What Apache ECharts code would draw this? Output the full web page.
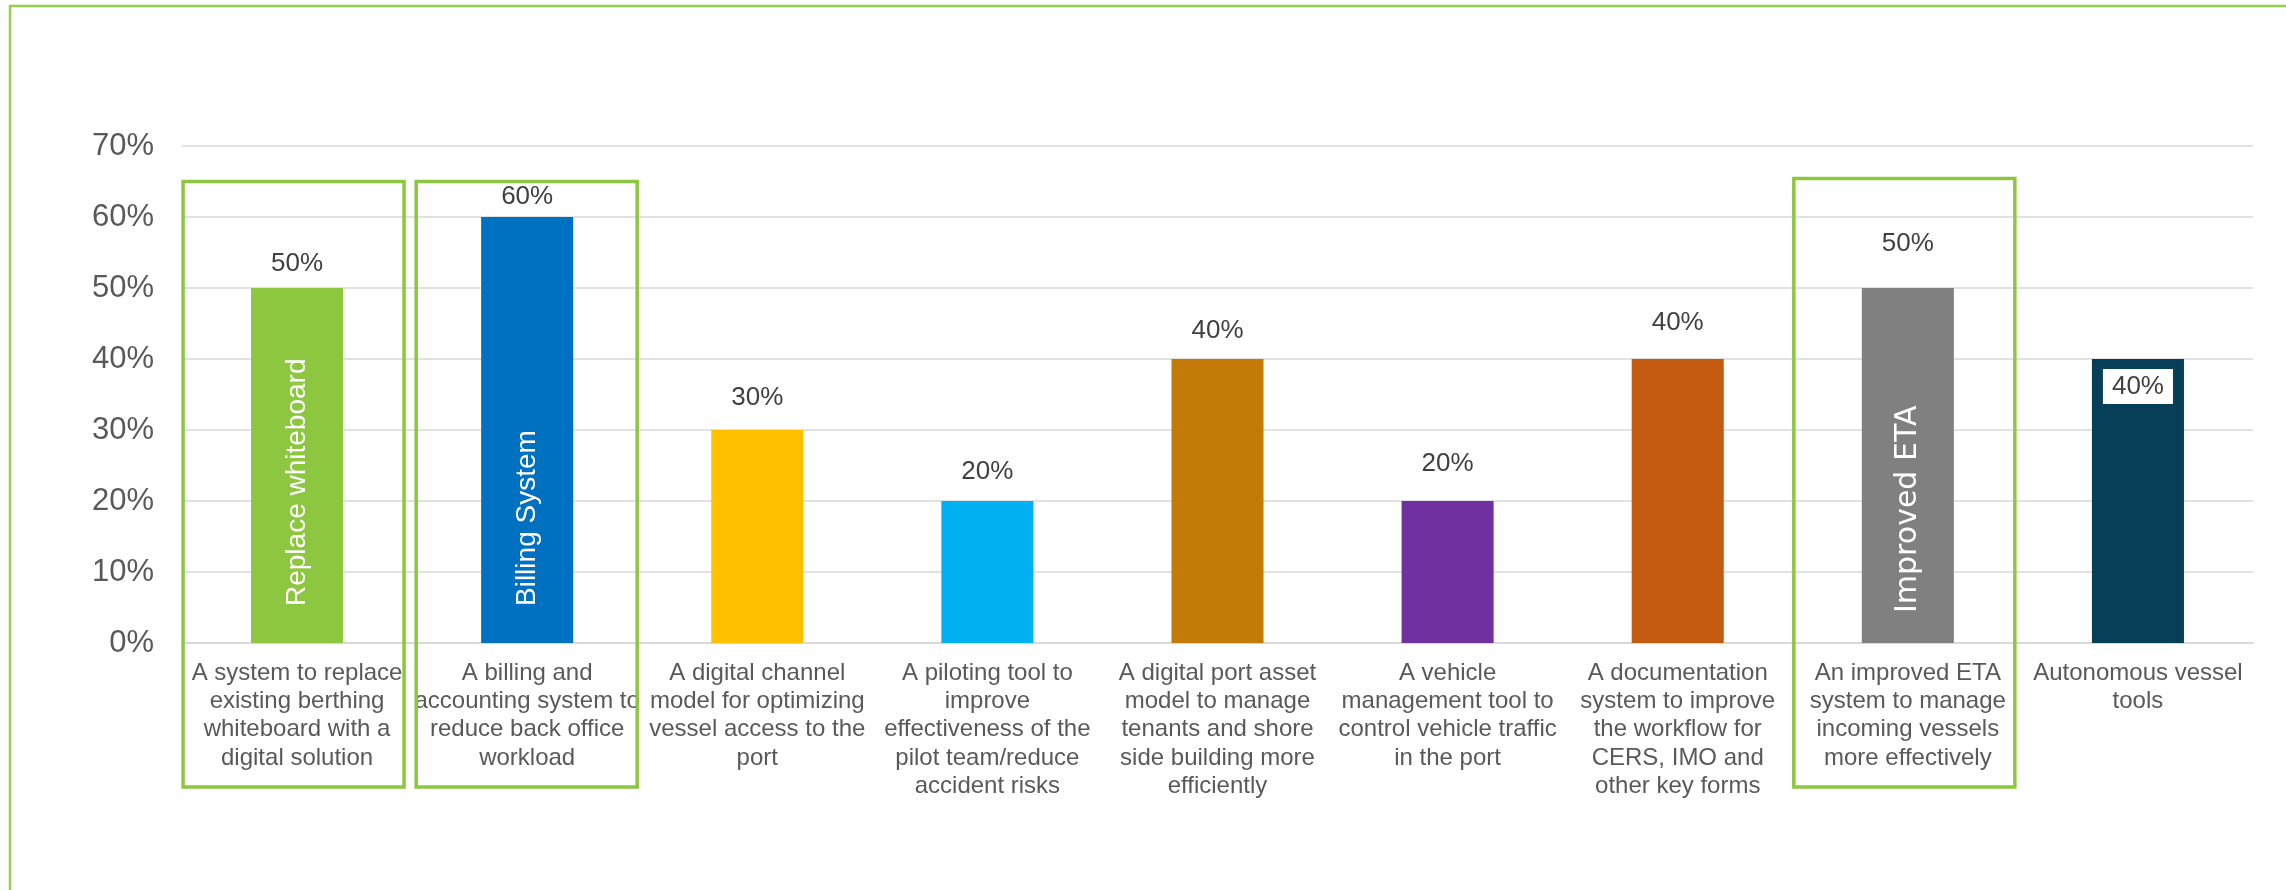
<!DOCTYPE html>
<html>
<head>
<meta charset="utf-8">
<script src="https://cdn.jsdelivr.net/npm/echarts@6/dist/echarts.min.js"></script>
<style>
  html, body { margin: 0; padding: 0; background: #fff; }
  #chart { width: 2286px; height: 890px; }
</style>
</head>
<body>
<div id="chart"></div>
<script>
// categories (line breaks as in the original slide)
const categories = [
  'A system to replace\nexisting berthing\nwhiteboard with a\ndigital solution',
  'A billing and\naccounting system to\nreduce back office\nworkload',
  'A digital channel\nmodel for optimizing\nvessel access to the\nport',
  'A piloting tool to\nimprove\neffectiveness of the\npilot team/reduce\naccident risks',
  'A digital port asset\nmodel to manage\ntenants and shore\nside building more\nefficiently',
  'A vehicle\nmanagement tool to\ncontrol vehicle traffic\nin the port',
  'A documentation\nsystem to improve\nthe workflow for\nCERS, IMO and\nother key forms',
  'An improved ETA\nsystem to manage\nincoming vessels\nmore effectively',
  'Autonomous vessel\ntools'
]
// share of respondents, percent
const values = [50, 60, 30, 20, 40, 20, 40, 50, 40]
// short names written inside some bars
const innerNames = ['Replace whiteboard', 'Billing System', '', '', '', '', '', 'Improved ETA', '']
// categories framed with a green box
const boxed = [0, 1, 7]
const yTicks = [0, 10, 20, 30, 40, 50, 60, 70]

const barColors = ['#8dc63f', '#0070c0', '#ffc000', '#00b0f0', '#c47a07', '#7030a0', '#c55a11', '#808080', '#073e58']
// gap between bar top and its value label (labels were placed by hand)
const labelGap = [11, 7, 19, 16, 15, 24, 23, 31, 10]

const font = '"Liberation Sans", Arial, sans-serif'
const chart = echarts.init(document.getElementById('chart'))

const mainData = values.map((v, i) => {
  const last = i === values.length - 1
  return {
    value: v,
    itemStyle: { color: barColors[i] },
    label: last
      ? { position: 'insideTop', distance: labelGap[i], backgroundColor: '#fff', padding: [5, 9, 4, 9] }
      : { position: 'top', distance: labelGap[i] }
  }
})

const innerData = values.map((v, i) => {
  const eta = i === 7
  return {
    value: v,
    label: {
      show: innerNames[i] !== '',
      formatter: innerNames[i],
      fontFamily: eta ? '"DejaVu Sans", sans-serif' : font,
      fontSize: eta ? 30 : 28,
      distance: eta ? 30 : 37
    }
  }
})

const option = {
  animation: false,
  grid: { left: 182, right: 33, top: 146, bottom: 247 },
  xAxis: {
    type: 'category',
    data: categories,
    axisTick: { show: false },
    axisLine: { lineStyle: { color: '#d9d9d9', width: 2 } },
    axisLabel: {
      interval: 0,
      margin: 16,
      fontSize: 24,
      lineHeight: 28.3,
      color: '#595959',
      fontFamily: font
    }
  },
  yAxis: {
    type: 'value',
    min: yTicks[0],
    max: yTicks[yTicks.length - 1],
    interval: 10,
    axisLabel: { formatter: '{value}%', fontSize: 31, color: '#595959', margin: 28, fontFamily: font },
    splitLine: { lineStyle: { color: '#d9d9d9', width: 1.5 } },
    axisLine: { show: false },
    axisTick: { show: false }
  },
  series: [
    {
      type: 'bar',
      barWidth: '40%',
      data: mainData,
      label: {
        show: true,
        formatter: '{c}%',
        fontSize: 26,
        color: '#404040',
        fontFamily: font
      }
    },
    {
      type: 'bar',
      barWidth: '40%',
      barGap: '-100%',
      silent: true,
      itemStyle: { color: 'transparent' },
      data: innerData,
      label: {
        position: 'insideBottom',
        rotate: 90,
        align: 'left',
        verticalAlign: 'middle',
        color: '#fff'
      }
    }
  ]
}

chart.setOption(option)

// green frames around the highlighted categories, plus the slide border
const base = chart.convertToPixel({ xAxisIndex: 0, yAxisIndex: 0 }, [0, 0])
const topY = chart.convertToPixel({ yAxisIndex: 0 }, 65)
const graphics = boxed.map(i => {
  const cx = chart.convertToPixel({ xAxisIndex: 0 }, i)
  const lift = i === 7 ? 3 : 0
  const shift = i === 1 ? 3 : 0
  return {
    type: 'rect',
    shape: { x: cx - 114 + shift, y: topY - lift, width: 221, height: base[1] + 144 - topY + lift },
    style: { fill: 'none', stroke: '#8dc63f', lineWidth: 3.5 },
    z: 10
  }
})
graphics.push({
  type: 'rect',
  shape: { x: 10, y: 6, width: 2400, height: 1000 },
  style: { fill: 'none', stroke: '#92d050', lineWidth: 2.5 },
  z: 10
})
chart.setOption({ graphic: graphics })
</script>
</body>
</html>
